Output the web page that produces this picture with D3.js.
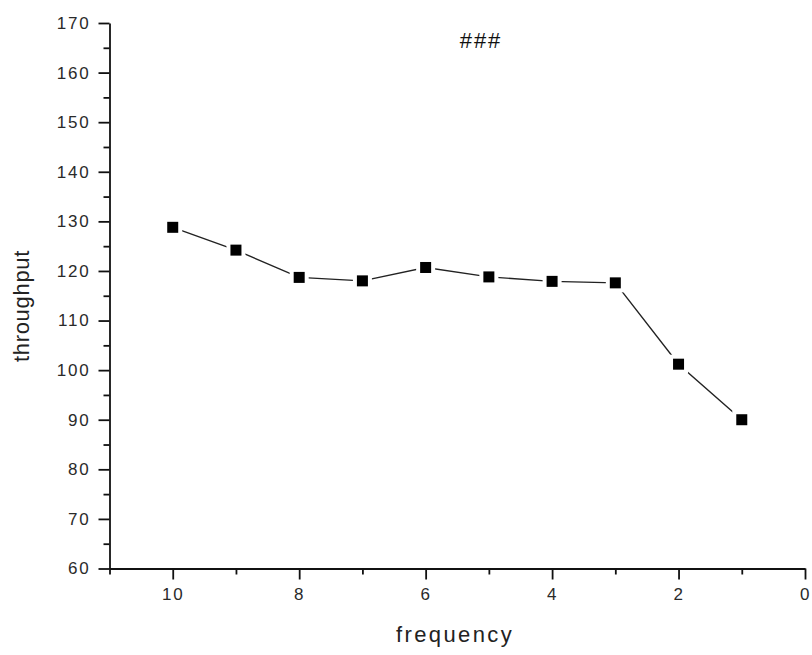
<!DOCTYPE html>
<html>
<head>
<meta charset="utf-8">
<script src="https://cdn.jsdelivr.net/npm/d3@7"></script>
<style>
  html, body { margin: 0; padding: 0; background: #fff; }
  svg { display: block; font-family: "Liberation Sans", Arial, sans-serif; }
  .tick text { font-size: 17px; letter-spacing: 1.8px; }
</style>
</head>
<body>
<svg id="chart" width="812" height="655"></svg>
<script>
// Throughput measured at each frequency setting
const frequency = [10, 9, 8, 7, 6, 5, 4, 3, 2, 1];
const throughput = [128.8, 124.2, 118.7, 118.0, 120.7, 118.8, 117.9, 117.6, 101.2, 90.0];
const xMajorTicks = [10, 8, 6, 4, 2, 0];
const xMinorTicks = [11, 9, 7, 5, 3, 1];
const yMajorTicks = [60, 70, 80, 90, 100, 110, 120, 130, 140, 150, 160, 170];
const yMinorTicks = [65, 75, 85, 95, 105, 115, 125, 135, 145, 155, 165];

const svg = d3.select("#chart");

const x = d3.scaleLinear().domain([11, 0]).range([109.5, 805]);
const y = d3.scaleLinear().domain([60, 170]).range([568.5, 23]);

const labelColor = "#2a2a2a";

// x axis: major ticks with labels, minor ticks without
const xAxisG = svg.append("g").attr("transform", `translate(0,${y(60)})`);
xAxisG.call(d3.axisBottom(x).tickValues(xMajorTicks).tickSize(11).tickPadding(8).tickSizeOuter(0));
xAxisG.append("g").call(d3.axisBottom(x).tickValues(xMinorTicks).tickSize(6).tickFormat("").tickSizeOuter(0))
  .select(".domain").remove();

// y axis
const yAxisG = svg.append("g").attr("transform", `translate(${x(11)},0)`);
yAxisG.call(d3.axisLeft(y).tickValues(yMajorTicks).tickSize(11).tickPadding(8).tickSizeOuter(0));
yAxisG.append("g").call(d3.axisLeft(y).tickValues(yMinorTicks).tickSize(6).tickFormat("").tickSizeOuter(0))
  .select(".domain").remove();

svg.selectAll(".domain").attr("stroke", "#111").attr("stroke-width", 1.8);
svg.selectAll(".tick line").attr("stroke", "#111").attr("stroke-width", 1.8);
svg.selectAll("g").attr("font-family", null).attr("font-size", null);
svg.selectAll(".tick text").attr("fill", labelColor);

// axis titles
svg.append("text")
  .attr("x", 455).attr("y", 642)
  .attr("text-anchor", "middle")
  .style("font-size", "22px")
  .style("letter-spacing", "2.4px")
  .attr("fill", "#222")
  .text("frequency");

svg.append("text")
  .attr("transform", `translate(29,306) rotate(-90)`)
  .attr("text-anchor", "middle")
  .style("font-size", "22px")
  .style("letter-spacing", "0.7px")
  .attr("fill", "#222")
  .text("throughput");

// title
svg.append("text")
  .attr("x", 481).attr("y", 48)
  .attr("text-anchor", "middle")
  .style("font-size", "22px")
  .style("letter-spacing", "2px")
  .attr("fill", "#111")
  .text("###");

// connecting line
const pts = frequency.map((f, i) => ({ f, v: throughput[i] }));
svg.append("path")
  .datum(pts)
  .attr("fill", "none")
  .attr("stroke", "#222")
  .attr("stroke-width", 1.4)
  .attr("d", d3.line().x(d => x(d.f)).y(d => y(d.v)));

// white halo so the line stops short of each marker
const m = 11, gap = 4;
svg.append("g").selectAll("rect")
  .data(pts).join("rect")
  .attr("x", d => x(d.f) - m / 2 - gap)
  .attr("y", d => y(d.v) - m / 2 - gap)
  .attr("width", m + 2 * gap).attr("height", m + 2 * gap)
  .attr("fill", "#fff");

// square markers
svg.append("g").selectAll("rect")
  .data(pts).join("rect")
  .attr("x", d => x(d.f) - m / 2)
  .attr("y", d => y(d.v) - m / 2)
  .attr("width", m).attr("height", m)
  .attr("fill", "#000");
</script>
</body>
</html>
